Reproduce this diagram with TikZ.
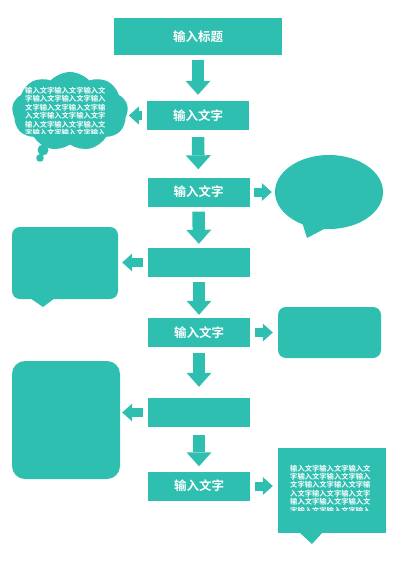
\documentclass[tikz,border=0pt]{standalone}
\usepackage{fontspec}
\setmainfont{Noto Sans CJK SC}[BoldFont={Noto Sans CJK SC Bold}]
\usetikzlibrary{shapes.geometric, shapes.symbols, arrows.meta, positioning}
\definecolor{flowteal}{RGB}{47,191,176}

\begin{document}
\begin{tikzpicture}[x=1pt, y=-1pt,
    box/.style={fill=flowteal, minimum width=102pt, minimum height=29pt, inner sep=0pt, text=white, font=\bfseries\fontsize{12.5}{14}\selectfont},
    panel/.style={fill=flowteal, inner sep=0pt},
    down arrow/.style={draw=flowteal, line width=12.5pt, -{Triangle[width=25pt, length=14pt, line width=0pt]}},
    side arrow/.style={draw=flowteal, line width=9pt, -{Triangle[width=18pt, length=10pt, line width=0pt]}},
    small text/.style={text=white, font=\bfseries\fontsize{7.3}{8.4}\selectfont, align=left, inner sep=0pt, anchor=north west}]

\useasboundingbox (0,0) rectangle (400,565);

% Main column
\node[box, minimum width=168pt, minimum height=37pt] (title) at (198,36.5) {输入标题};
\node[box] (s1) at (198,115.5) {输入文字};
\node[box] (s2) at (198.5,192) {输入文字};
\node[box] (s3) at (199,262.5) {};
\node[box] (s4) at (199,332.5) {输入文字};
\node[box] (s5) at (199,412.5) {};
\node[box] (s6) at (199,486) {输入文字};

% Side shapes
\node[panel, cloud, cloud puffs=9, cloud puff arc=95, minimum width=116pt, minimum height=79pt] (cloud1) at (70,111.5) {};
\fill[flowteal] (43,150) circle (5.5pt) (40,158) circle (3.8pt);

\node[panel, ellipse, minimum width=108pt, minimum height=74pt] (bubble) at (329,192) {};
\fill[flowteal] (302,222) -- (307,238) -- (326,228) -- cycle;

\node[panel, rounded corners=8pt, minimum width=106pt, minimum height=72pt] (note1) at (65,263) {};
\fill[flowteal] (30,298) -- (43,307) -- (55,298) -- cycle;

\node[panel, rounded corners=8pt, minimum width=103pt, minimum height=51pt] (note2) at (329.5,332.5) {};

\node[panel, rounded corners=13pt, minimum width=108pt, minimum height=118pt] (note3) at (66,420) {};

\node[panel, minimum width=108pt, minimum height=85pt] (note4) at (332,490.5) {};
\fill[flowteal] (299,532) -- (312,544) -- (323,532) -- cycle;

% Text in the cloud and in the last box
\begin{scope}
\clip (18,84) rectangle (115,133);
\node[small text] (cloudtext) at (25,87) {输入文字输入文字输入文\\字输入文字输入文字输入\\文字输入文字输入文字输\\入文字输入文字输入文字\\输入文字输入文字输入文\\字输入文字输入文字输入};
\end{scope}
\begin{scope}
\clip (285,460) rectangle (380,510);
\node[small text] (boxtext) at (290,464.7) {输入文字输入文字输入文\\字输入文字输入文字输入\\文字输入文字输入文字输\\入文字输入文字输入文字\\输入文字输入文字输入文\\字输入文字输入文字输入};
\end{scope}

% Down arrows
\draw[down arrow, shorten <=5pt, shorten >=6pt] (title) -- (s1);
\draw[down arrow, shorten <=7pt, shorten >=8pt] (s1) -- (s2);
\draw[down arrow, shorten <=5pt, shorten >=4pt] (s2) -- (s3);
\draw[down arrow, shorten <=5pt, shorten >=3pt] (s3) -- (s4);
\draw[down arrow, shorten <=6pt, shorten >=11pt] (s4) -- (s5);
\draw[down arrow, shorten <=8pt, shorten >=5pt] (s5) -- (s6);

% Side arrows
\draw[side arrow, shorten <=5pt, shorten >=1pt] (s1.west) -- (s1.west -| cloud1.east);
\draw[side arrow, shorten <=4pt, shorten >=3pt] (s2.east) -- (bubble.west);
\draw[side arrow, shorten <=5pt, shorten >=4pt] (s3.west) -- (s3.west -| note1.east);
\draw[side arrow, shorten <=5pt, shorten >=5pt] (s4.east) -- (s4.east -| note2.west);
\draw[side arrow, shorten <=5pt, shorten >=2pt] (s5.west) -- (s5.west -| note3.east);
\draw[side arrow, shorten <=5pt, shorten >=5pt] (s6.east) -- (s6.east -| note4.west);

\end{tikzpicture}
\end{document}
